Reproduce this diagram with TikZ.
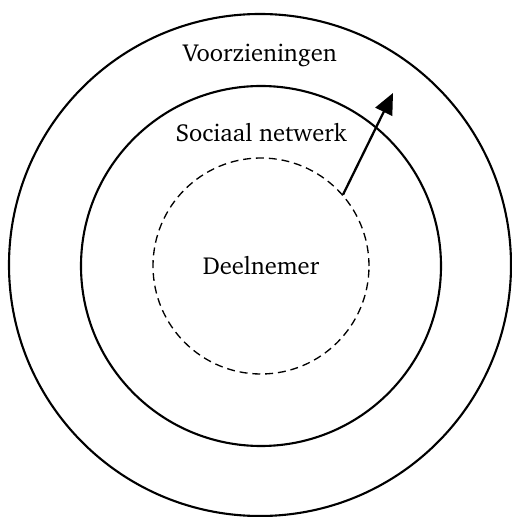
\documentclass[tikz,border=0pt]{standalone}
\usepackage[T1]{fontenc}
\usepackage{charter}
\usetikzlibrary{arrows.meta}
\begin{document}
\begin{tikzpicture}[
        >={Triangle[length=0.42cm,width=0.37cm]},
        every node/.style={font=\fontsize{14}{16}\selectfont},
        ring/.style={
            draw,
            circle,
            inner sep=0pt,
            line width=1.2pt
        }
    ]
        \useasboundingbox (-5.2,-5.04) rectangle (5.02,5.3);
        \node[ring, minimum size=10.04cm] (voorzieningen) at (0,0) {};
        \node[ring, minimum size=7.2cm] (netwerk) at (0.02,-0.02) {};
        \node[ring, dash pattern=on 4.5pt off 2.8pt, line width=0.75pt, minimum size=4.32cm] (deelnemer) at (0.02,-0.02) {Deelnemer};
        \node (lblvoorz) at (0,4.2) {Voorzieningen};
        \node (lblnetwerk) at (0.02,2.64) {Sociaal netwerk};
        \coordinate (buiten) at (2.66,3.44);

        \draw[->, line width=1.3pt] (deelnemer.41) -- (buiten);
    \end{tikzpicture}
\end{document}
